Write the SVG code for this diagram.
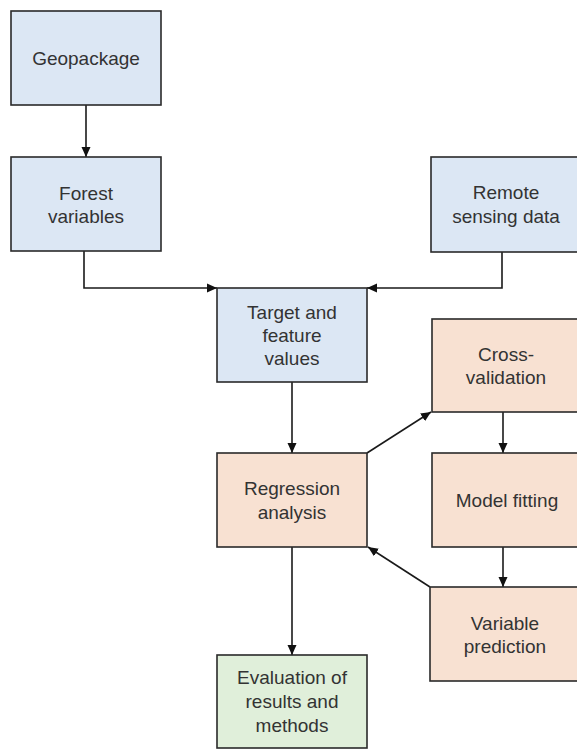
<svg xmlns="http://www.w3.org/2000/svg" width="577" height="749" viewBox="0 0 577 749">
<style>
.box{stroke:#2a2a2a;stroke-width:1.6}
.blue{fill:#dce7f4}
.orange{fill:#f8e1d2}
.green{fill:#e0efda}
text{font-family:"Liberation Sans",Arial,sans-serif;font-size:19px;fill:#333;text-anchor:middle}
.conn{fill:none;stroke:#1a1a1a;stroke-width:1.6;marker-end:url(#ah)}
</style>
<defs>
<marker id="ah" viewBox="0 0 10 10" refX="10" refY="5" markerWidth="10" markerHeight="10" markerUnits="userSpaceOnUse" orient="auto">
<path d="M0,0.5 L10,5 L0,9.5 Z" fill="#111"/>
</marker>
</defs>
<rect width="577" height="749" fill="#fff"/>
<g id="connectors">
<line class="conn" x1="86" y1="105" x2="86" y2="157"/>
<polyline class="conn" points="84,251 84,288 217,288"/>
<polyline class="conn" points="502,252 502,288 367,288"/>
<line class="conn" x1="292" y1="382" x2="292" y2="453"/>
<line class="conn" x1="367" y1="453" x2="431" y2="412"/>
<line class="conn" x1="503" y1="412" x2="503" y2="453"/>
<line class="conn" x1="503" y1="547" x2="503" y2="587"/>
<line class="conn" x1="430" y1="587" x2="368" y2="547"/>
<line class="conn" x1="292" y1="547" x2="292" y2="655"/>
</g>
<g id="geopackage">
<rect class="box blue" x="11" y="11" width="150" height="94"/>
<text x="86" y="65">Geopackage</text>
</g>
<g id="forest-variables">
<rect class="box blue" x="11" y="157" width="150" height="94"/>
<text x="86" y="200">Forest</text>
<text x="86" y="223">variables</text>
</g>
<g id="remote-sensing">
<rect class="box blue" x="431" y="157" width="150" height="95"/>
<text x="506" y="199">Remote</text>
<text x="506" y="223">sensing data</text>
</g>
<g id="target-feature">
<rect class="box blue" x="217" y="288" width="150" height="94"/>
<text x="292" y="319">Target and</text>
<text x="292" y="342">feature</text>
<text x="292" y="365">values</text>
</g>
<g id="cross-validation">
<rect class="box orange" x="432" y="319" width="150" height="93"/>
<text x="506" y="361">Cross-</text>
<text x="506" y="384">validation</text>
</g>
<g id="regression">
<rect class="box orange" x="217" y="453" width="150" height="94"/>
<text x="292" y="495">Regression</text>
<text x="292" y="519">analysis</text>
</g>
<g id="model-fitting">
<rect class="box orange" x="432" y="453" width="150" height="94"/>
<text x="507" y="507">Model fitting</text>
</g>
<g id="variable-prediction">
<rect class="box orange" x="430" y="587" width="150" height="94"/>
<text x="505" y="630">Variable</text>
<text x="505" y="653">prediction</text>
</g>
<g id="evaluation">
<rect class="box green" x="217" y="655" width="150" height="93"/>
<text x="292" y="684">Evaluation of</text>
<text x="292" y="708">results and</text>
<text x="292" y="732">methods</text>
</g>
</svg>
